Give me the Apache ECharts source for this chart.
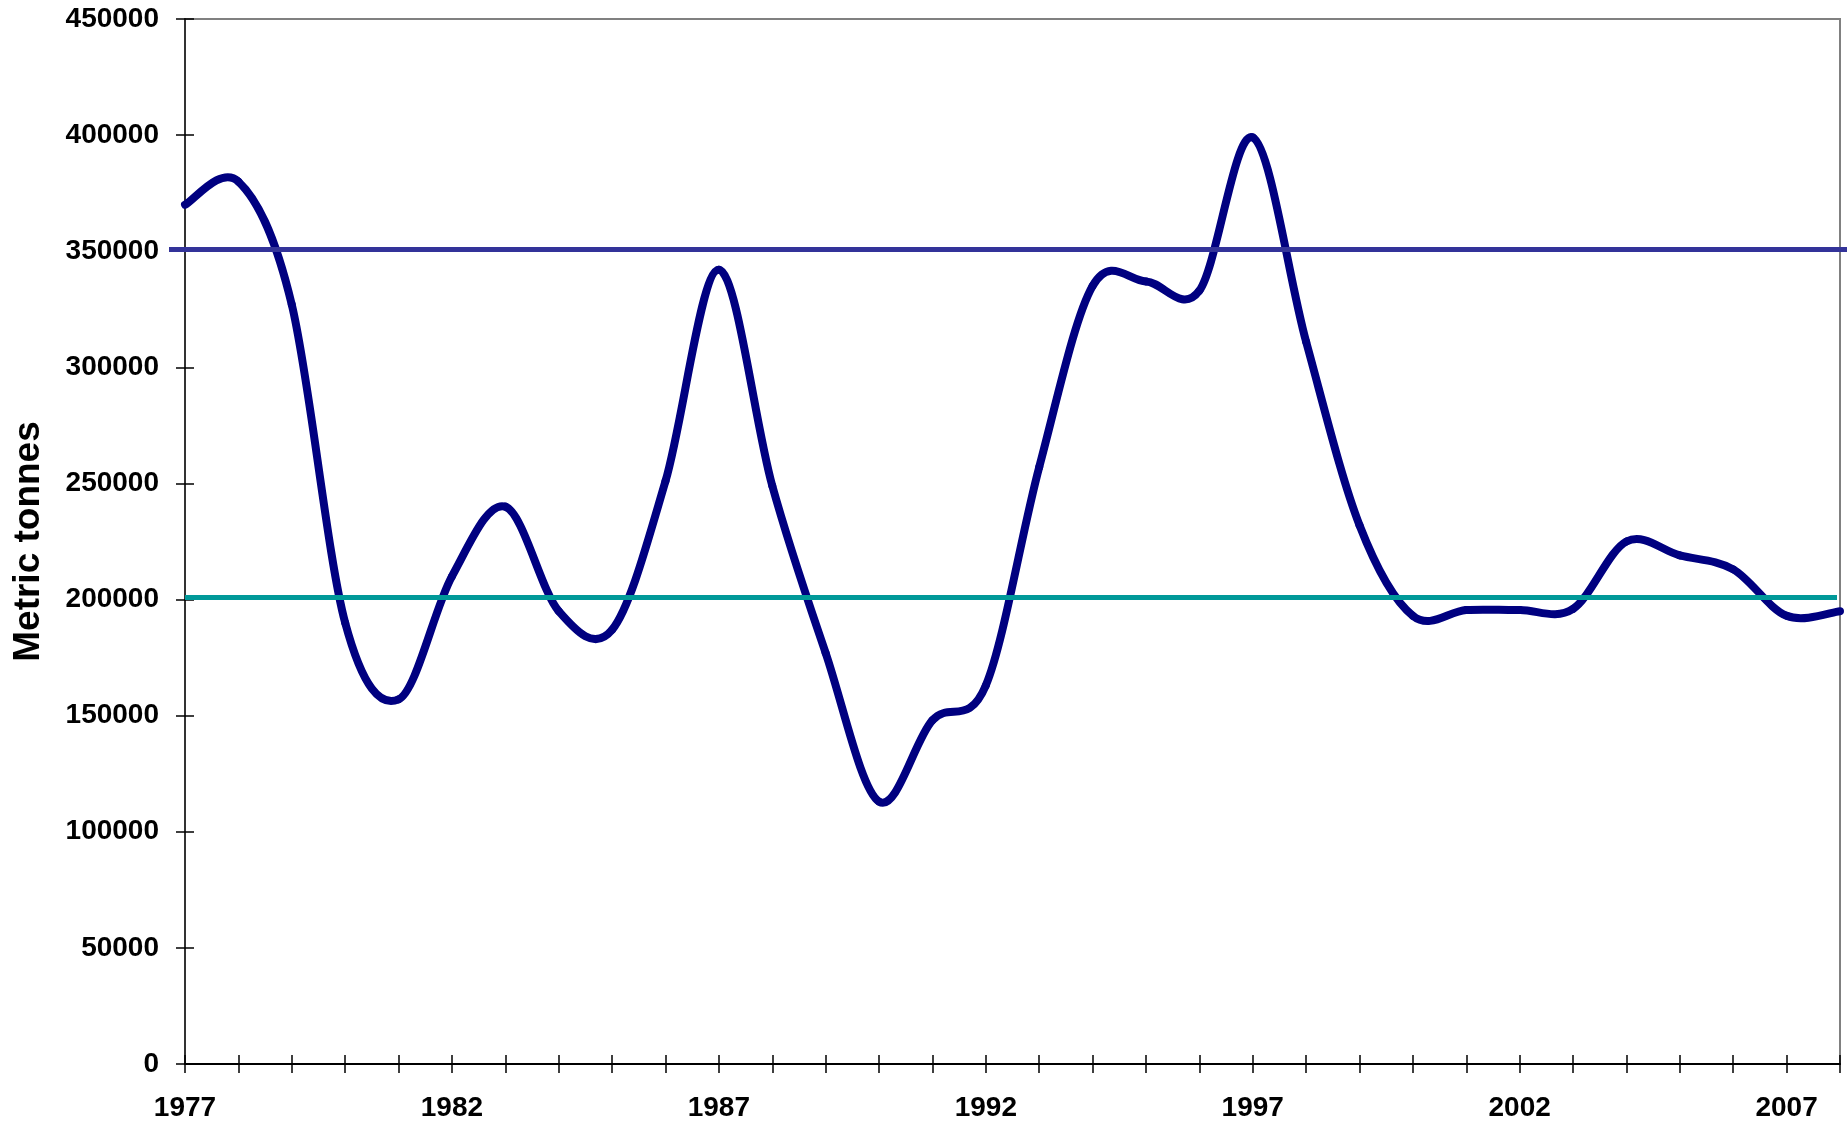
<!DOCTYPE html>
<html>
<head>
<meta charset="utf-8">
<title>Metric tonnes 1977-2008</title>
<script src="https://cdn.jsdelivr.net/npm/echarts@6/dist/echarts.min.js"></script>
<style>
  html, body { margin: 0; padding: 0; background: #fff; }
  #chart { width: 1847px; height: 1123px; }
</style>
</head>
<body>
<div id="chart"></div>
<script>
// data
const years = [
  '1977', '1978', '1979', '1980', '1981', '1982', '1983', '1984',
  '1985', '1986', '1987', '1988', '1989', '1990', '1991', '1992',
  '1993', '1994', '1995', '1996', '1997', '1998', '1999', '2000',
  '2001', '2002', '2003', '2004', '2005', '2006', '2007', '2008',
];
const tonnes = [
  370000, 380000, 327000, 190000, 157000, 210000, 240000, 195000,
  187000, 251000, 342000, 249000, 177000, 113000, 148000, 163000,
  257000, 335000, 337000, 333000, 399000, 311000, 232000, 193000,
  195500, 195500, 196000, 225000, 219000, 213000, 193000, 195000,
];
const upperLevel = 351000;
const lowerLevel = 201000;
const yTicks = [0, 50000, 100000, 150000, 200000, 250000, 300000, 350000, 400000, 450000];

const font = "'Liberation Sans', Arial, sans-serif";

// excel style smoothed line: one catmull-rom bezier per segment,
// points come from the axes through api.coord
function renderSegment(params, api) {
  const i = params.dataIndex;
  const n = tonnes.length;
  if (i >= n - 1) return null;
  const pt = (j) => {
    const k = Math.max(0, Math.min(n - 1, j));
    return api.coord([k, tonnes[k]]);
  };
  const p0 = pt(i - 1);
  const p1 = pt(i);
  const p2 = pt(i + 1);
  const p3 = pt(i + 2);
  return {
    type: 'bezierCurve',
    shape: {
      x1: p1[0],
      y1: p1[1],
      x2: p2[0],
      y2: p2[1],
      cpx1: p1[0] + (p2[0] - p0[0]) / 6,
      cpy1: p1[1] + (p2[1] - p0[1]) / 6,
      cpx2: p2[0] - (p3[0] - p1[0]) / 6,
      cpy2: p2[1] - (p3[1] - p1[1]) / 6,
    },
    style: {
      fill: 'none',
      stroke: '#000080',
      lineWidth: 8,
      lineCap: 'round',
    },
  };
}

const chart = echarts.init(document.getElementById('chart'), null, { renderer: 'canvas' });

chart.setOption({
  animation: false,
  backgroundColor: '#ffffff',
  grid: {
    left: 185,
    right: 7,
    top: 19,
    bottom: 59,
    show: true,
    borderColor: '#808080',
    borderWidth: 2,
  },
  xAxis: [
    {
      type: 'category',
      data: years,
      boundaryGap: false,
      axisLine: { lineStyle: { color: '#000', width: 2 } },
      axisTick: { interval: 0, length: 9, lineStyle: { color: '#000', width: 1.5 } },
      axisLabel: {
        interval: 4,
        margin: 30,
        color: '#000',
        fontFamily: font,
        fontWeight: 'bold',
        fontSize: 28,
      },
      splitLine: { show: false },
    },
    {
      // second axis only to get ticks crossing the line
      type: 'category',
      data: years,
      boundaryGap: false,
      position: 'bottom',
      axisLine: { show: false },
      axisTick: { interval: 0, inside: true, length: 9, lineStyle: { color: '#000', width: 1.5 } },
      axisLabel: { show: false },
      splitLine: { show: false },
    },
  ],
  yAxis: [
    {
      type: 'value',
      min: yTicks[0],
      max: yTicks[yTicks.length - 1],
      interval: 50000,
      name: 'Metric tonnes',
      nameLocation: 'middle',
      nameGap: 138,
      nameTextStyle: {
        color: '#000',
        fontFamily: font,
        fontWeight: 'bold',
        fontSize: 37,
      },
      axisLine: { show: true, lineStyle: { color: '#333', width: 2 } },
      axisTick: { show: true, length: 9, lineStyle: { color: '#000', width: 1.5 } },
      axisLabel: {
        margin: 26,
        color: '#000',
        fontFamily: font,
        fontWeight: 'bold',
        fontSize: 28,
        formatter: (v) => String(v),
      },
      splitLine: { show: false },
    },
    {
      type: 'value',
      min: yTicks[0],
      max: yTicks[yTicks.length - 1],
      interval: 50000,
      position: 'left',
      axisLine: { show: false },
      axisTick: { show: true, inside: true, length: 9, lineStyle: { color: '#000', width: 1.5 } },
      axisLabel: { show: false },
      splitLine: { show: false },
    },
  ],
  series: [
    {
      type: 'custom',
      z: 1,
      data: tonnes.map((v, i) => [i, v]),
      renderItem: renderSegment,
      encode: { x: 0, y: 1 },
    },
    {
      // invisible carrier for the two level lines
      type: 'line',
      z: 3,
      data: tonnes,
      clip: false,
      silent: true,
      showSymbol: false,
      lineStyle: { opacity: 0 },
      markLine: {
        silent: true,
        symbol: 'none',
        label: { show: false },
        data: [
          [
            { x: 169, yAxis: upperLevel, lineStyle: { color: '#333399', width: 5, type: 'solid' } },
            { x: 1847, yAxis: upperLevel },
          ],
          [
            { xAxis: years[0], yAxis: lowerLevel, lineStyle: { color: '#009999', width: 5, type: 'solid' } },
            { x: 1837, yAxis: lowerLevel },
          ],
        ],
      },
    },
  ],
});
</script>
</body>
</html>
